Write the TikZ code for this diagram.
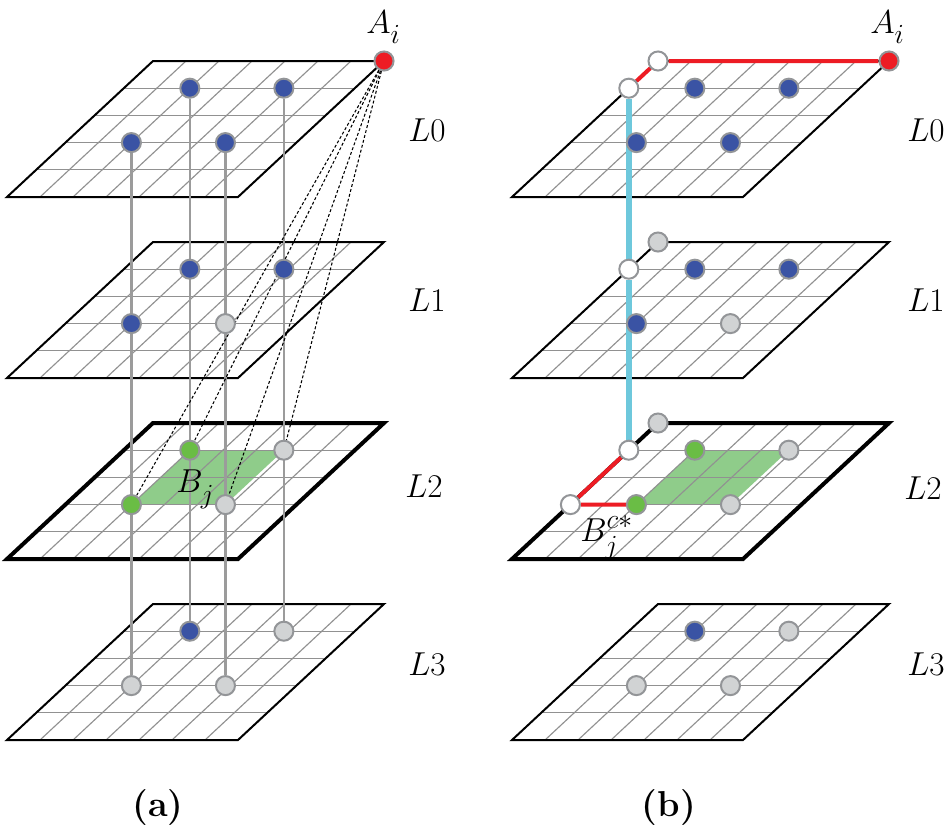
\documentclass[tikz,border=0pt]{standalone}
\usepackage{graphicx}
\pgfdeclarelayer{planes}
\pgfdeclarelayer{links}
\pgfsetlayers{planes,links,main}
\definecolor{dotblue}{RGB}{58,83,164}
\definecolor{dotgreen}{RGB}{106,189,69}
\definecolor{dotgray}{RGB}{209,211,212}
\definecolor{rimgray}{RGB}{147,149,152}
\definecolor{dotred}{RGB}{237,28,36}
\definecolor{pathcyan}{RGB}{110,200,220}
\definecolor{areagreen}{RGB}{143,204,138}
\definecolor{gridgray}{RGB}{145,145,145}
\definecolor{vgray}{RGB}{155,155,155}
\tikzset{
 gridline/.style={draw=gridgray,line width=0.85pt},
 dot/.style={circle,draw=rimgray,line width=1.5pt,minimum size=14.3pt,inner sep=0pt},
 bdot/.style={dot,fill=dotblue},
 gdot/.style={dot,fill=dotgreen},
 sdot/.style={dot,fill=dotgray},
 wdot/.style={dot,fill=white},
 rdot/.style={dot,fill=dotred},
 vline/.style={draw=vgray,line width=1.7pt},
 dline/.style={draw=black,line width=0.8pt,dash pattern=on 2.2pt off 1.6pt},
 redpath/.style={draw=dotred,line width=3pt},
 cyanpath/.style={draw=pathcyan,line width=4.5pt},
 lab/.style={font=\fontsize{24.88}{28}\selectfont,inner sep=0pt},
 panellab/.style={font=\fontsize{27}{30}\selectfont\bfseries,inner sep=0pt},
 gridframe/.style={x={(24.75pt,0pt)},y={(21.9pt,20.4pt)}}
}
\newcommand\planebase[2]{%
 \begin{pgfonlayer}{planes}
 \fill[white] (0,0) -- (7,0) -- (7,5) -- (0,5) -- cycle;
 #2
 \foreach \k in {1,...,6} {\draw[gridline] (\k,0) -- (\k,5);}
 \foreach \k in {1,...,4} {\draw[gridline] (0,\k) -- (7,\k);}
 \draw[line width=#1,line join=miter] (0,0) -- (7,0) -- (7,5) -- (0,5) -- cycle;
 \end{pgfonlayer}}
\newcommand\greenarea{\fill[areagreen] (2,2) -- (4.85,2) -- (4.85,4) -- (2,4) -- cycle;}
\begin{document}
\begin{tikzpicture}[x=0.75pt,y=-0.75pt]
\useasboundingbox (0,0) rectangle (948,832);
% ---------------- panel (a) ----------------
\begin{scope}[shift={(7,197)},gridframe]
 \planebase{1.5pt}{}
 \node[rdot] (aAi) at (7,5) {};
 \node[bdot] (a0-24) at (2,4) {};
 \node[bdot] (a0-54) at (4.85,4) {};
 \node[bdot] (a0-22) at (2,2) {};
 \node[bdot] (a0-52) at (4.85,2) {};
\end{scope}
\begin{scope}[shift={(7,378)},gridframe]
 \planebase{1.5pt}{}
 \node[bdot] (a1-24) at (2,4) {};
 \node[bdot] (a1-54) at (4.85,4) {};
 \node[bdot] (a1-22) at (2,2) {};
 \node[sdot] (a1-52) at (4.85,2) {};
\end{scope}
\begin{scope}[shift={(7,559)},gridframe]
 \planebase{3pt}{\greenarea}
 \node[gdot] (a2-24) at (2,4) {};
 \node[sdot] (a2-54) at (4.85,4) {};
 \node[gdot] (a2-22) at (2,2) {};
 \node[sdot] (a2-52) at (4.85,2) {};
\end{scope}
\begin{scope}[shift={(7,740)},gridframe]
 \planebase{1.5pt}{}
 \node[bdot] (a3-24) at (2,4) {};
 \node[sdot] (a3-54) at (4.85,4) {};
 \node[sdot] (a3-22) at (2,2) {};
 \node[sdot] (a3-52) at (4.85,2) {};
\end{scope}
\begin{pgfonlayer}{links}
 \draw[vline] (a0-22) -- (a3-22);
 \draw[vline] (a0-24) -- (a3-24);
 \draw[vline] (a0-52) -- (a3-52);
 \draw[vline] (a0-54) -- (a3-54);
 \draw[dline] (aAi) -- (a2-22);
 \draw[dline] (aAi) -- (a2-24);
 \draw[dline] (aAi) -- (a2-52);
 \draw[dline] (aAi) -- (a2-54);
\end{pgfonlayer}
\node[lab,anchor=base west] (aAitext) at (366,33) {$A_{\raisebox{-4pt}{$\scriptstyle i$}}$};
\node[lab,anchor=base west] (aBtext) at (176,492) {$B_{\raisebox{-5pt}{$\scriptstyle j$}}$};
\node[lab] (aL0) at (427,130) {$L0$};
\node[lab] (aL1) at (427,300) {$L1$};
\node[lab] (aL2) at (424,486) {$L2$};
\node[lab] (aL3) at (427,664) {$L3$};
\node[panellab] (pa) at (158,808) {(a)};
% ---------------- panel (b) ----------------
\begin{scope}[shift={(512,197)},gridframe]
 \planebase{1.5pt}{}
 \node[rdot] (bAi) at (7,5) {};
 \node[wdot] (b0-05) at (0,5) {};
 \node[wdot] (b0-04) at (0,4) {};
 \node[bdot] (b0-24) at (2,4) {};
 \node[bdot] (b0-54) at (4.85,4) {};
 \node[bdot] (b0-22) at (2,2) {};
 \node[bdot] (b0-52) at (4.85,2) {};
\end{scope}
\begin{scope}[shift={(512,378)},gridframe]
 \planebase{1.5pt}{}
 \node[sdot] (b1-05) at (0,5) {};
 \node[wdot] (b1-04) at (0,4) {};
 \node[bdot] (b1-24) at (2,4) {};
 \node[bdot] (b1-54) at (4.85,4) {};
 \node[bdot] (b1-22) at (2,2) {};
 \node[sdot] (b1-52) at (4.85,2) {};
\end{scope}
\begin{scope}[shift={(512,559)},gridframe]
 \planebase{3pt}{\greenarea}
 \node[sdot] (b2-05) at (0,5) {};
 \node[wdot] (b2-04) at (0,4) {};
 \node[wdot] (b2-02) at (0,2) {};
 \node[gdot] (b2-24) at (2,4) {};
 \node[sdot] (b2-54) at (4.85,4) {};
 \node[gdot] (b2-22) at (2,2) {};
 \node[sdot] (b2-52) at (4.85,2) {};
\end{scope}
\begin{scope}[shift={(512,740)},gridframe]
 \planebase{1.5pt}{}
 \node[bdot] (b3-24) at (2,4) {};
 \node[sdot] (b3-54) at (4.85,4) {};
 \node[sdot] (b3-22) at (2,2) {};
 \node[sdot] (b3-52) at (4.85,2) {};
\end{scope}
\begin{pgfonlayer}{links}
 \draw[redpath] (bAi) -- (b0-05) -- (b0-04);
 \draw[cyanpath] (b0-04) -- (b1-04) -- (b2-04);
 \draw[redpath] (b2-04) -- (b2-02) -- (b2-22);
\end{pgfonlayer}
\node[lab,anchor=base west] (bAitext) at (870,33) {$A_{\raisebox{-4pt}{$\scriptstyle i$}}$};
\node[lab,anchor=base west] (bBtext) at (580,541) {$B_{\raisebox{-4pt}{$\scriptstyle j$}}^{c*}$};
\node[lab] (bL0) at (926,130) {$L0$};
\node[lab] (bL1) at (926,300) {$L1$};
\node[lab] (bL2) at (923,488) {$L2$};
\node[lab] (bL3) at (926,664) {$L3$};
\node[panellab] (pb) at (669,808) {(b)};
\end{tikzpicture}
\end{document}
